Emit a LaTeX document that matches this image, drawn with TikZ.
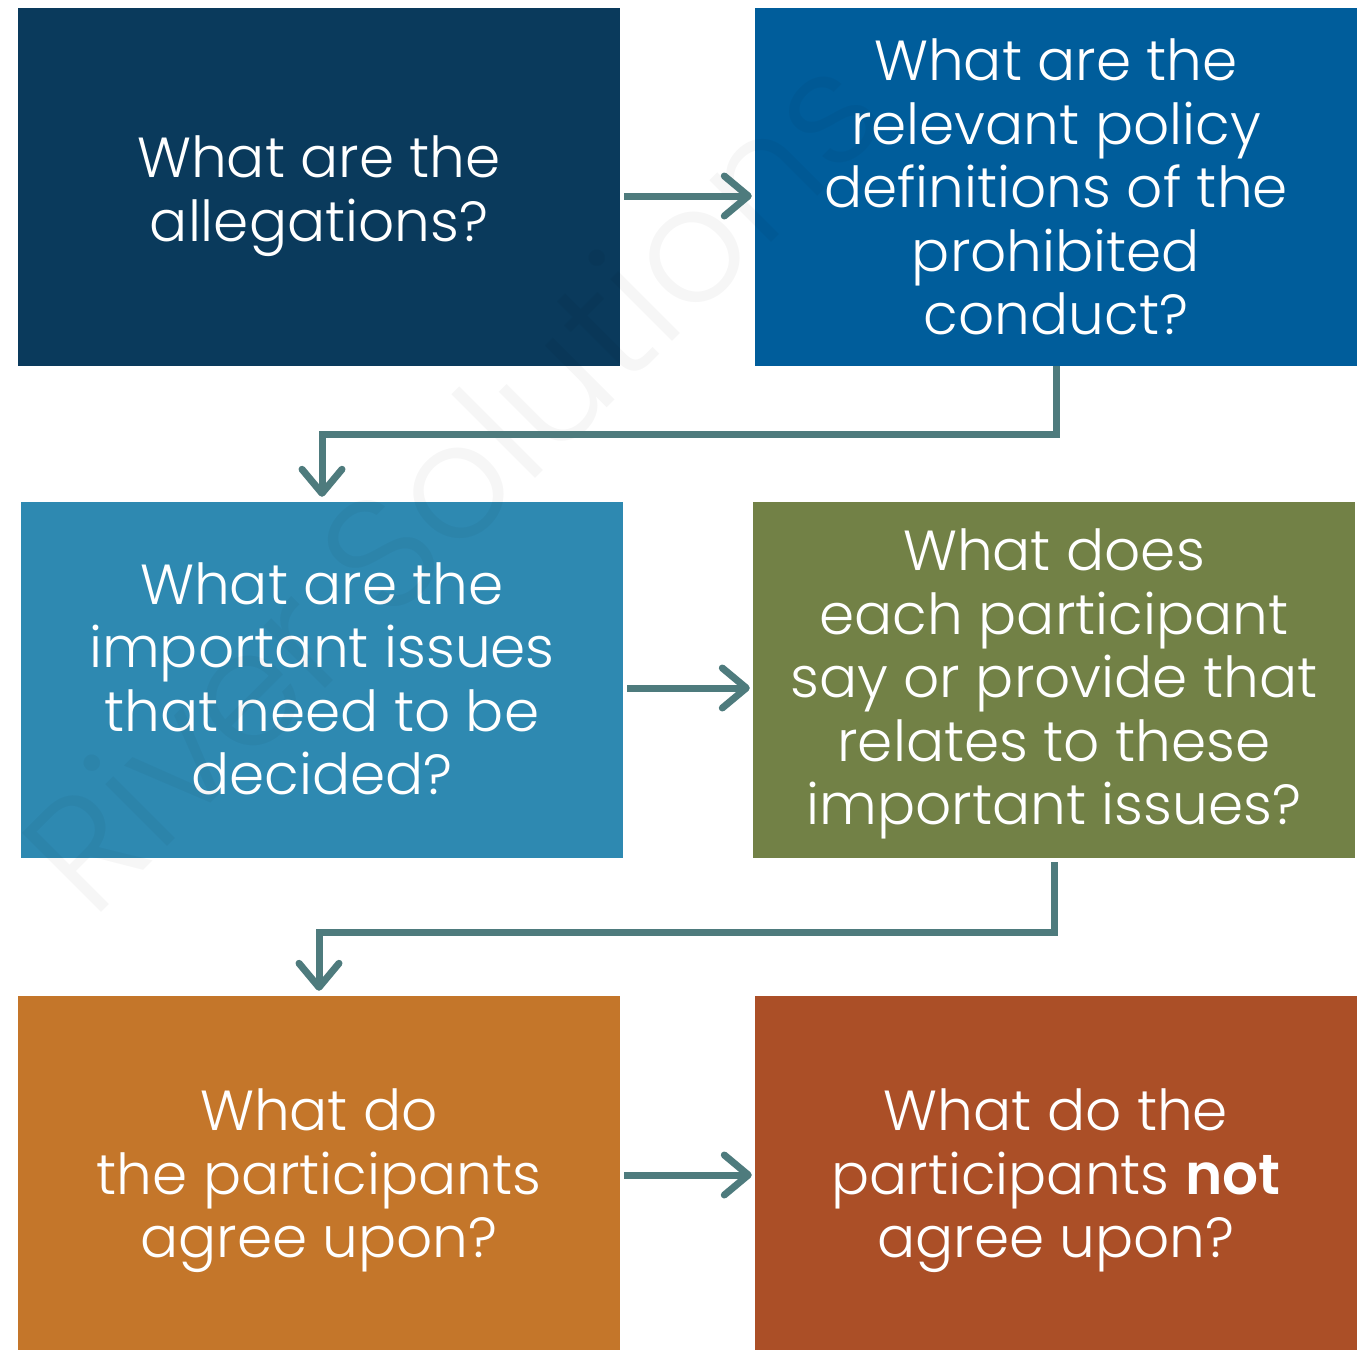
\documentclass[tikz,border=0pt]{standalone}
\usepackage{fontspec}
\setmainfont{Poppins}[UprightFont=* Light, BoldFont=* SemiBold]
\usetikzlibrary{arrows.meta}
\definecolor{cNavy}{HTML}{0A3A5C}
\definecolor{cBlue}{HTML}{005D9B}
\definecolor{cTeal}{HTML}{2E89B1}
\definecolor{cOlive}{HTML}{728146}
\definecolor{cOrange}{HTML}{C4762A}
\definecolor{cRust}{HTML}{AB4F27}
\definecolor{cArrow}{HTML}{4E7B7D}
\begin{document}
\begin{tikzpicture}[x=1pt,y=-1pt,
  box/.style={rectangle, minimum width=602pt, minimum height=358pt, inner sep=0pt},
  txt/.style={text=white, align=center, inner sep=0pt, font=\fontsize{56.5}{63.5}\selectfont},
  conn/.style={draw=cArrow, line width=7pt,
    -{Straight Barb[length=24pt,width=40pt,round]}},
  elbow/.style={draw=cArrow, line width=7pt, line join=miter,
    -{Straight Barb[length=24pt,width=40pt,round]}}]
\useasboundingbox (0,0) rectangle (1361,1350);
\fill[white] (0,0) rectangle (1361,1350);
\node[box, fill=cNavy] (a1) at (319,187) {};
\node[box, fill=cBlue] (a2) at (1056,187) {};
\node[box, fill=cTeal, minimum height=356pt] (b1) at (322,680) {};
\node[box, fill=cOlive, minimum height=356pt] (b2) at (1054,680) {};
\node[box, fill=cOrange, minimum height=354pt] (c1) at (319,1173) {};
\node[box, fill=cRust, minimum height=354pt] (c2) at (1056,1173) {};
\node[txt] (t1) at (319,196) {What are the\\allegations?};
\node[txt] (t2) at (1056,187) {What are the\\relevant policy\\definitions of the\\prohibited\\conduct?};
\node[txt] (t3) at (322,679) {What are the\\important issues\\that need to be\\decided?};
\node[txt] (t4) at (1054,684) {What does\\each participant\\say or provide that\\relates to these\\important issues?};
\node[txt] (t5) at (319,1181) {What do\\the participants\\agree upon?};
\node[txt] (t6) at (1056,1181) {What do the\\participants \textbf{not}\\agree upon?};
\node[rotate=45, font=\fontsize{160}{160}\selectfont, text=black, opacity=0.035] (wm) at (450,480) {River Solutions};
\draw[conn, shorten <=4pt, shorten >=3pt] ([yshift=-9pt]a1.east) -- ([yshift=-9pt]a2.west);
\draw[conn, shorten <=4pt, shorten >=3pt] ([yshift=-8pt]b1.east) -- ([yshift=-8pt]b2.west);
\draw[conn, shorten <=4pt, shorten >=3pt] ([yshift=-2pt]c1.east) -- ([yshift=-2pt]c2.west);
\draw[elbow, shorten >=5pt] (a2.south) -- ++(0,68) -| (b1.north);
\draw[elbow, shorten <=4pt, shorten >=5pt] (b2.south) -- ++(0,74) -| (c1.north);
\end{tikzpicture}
\end{document}
